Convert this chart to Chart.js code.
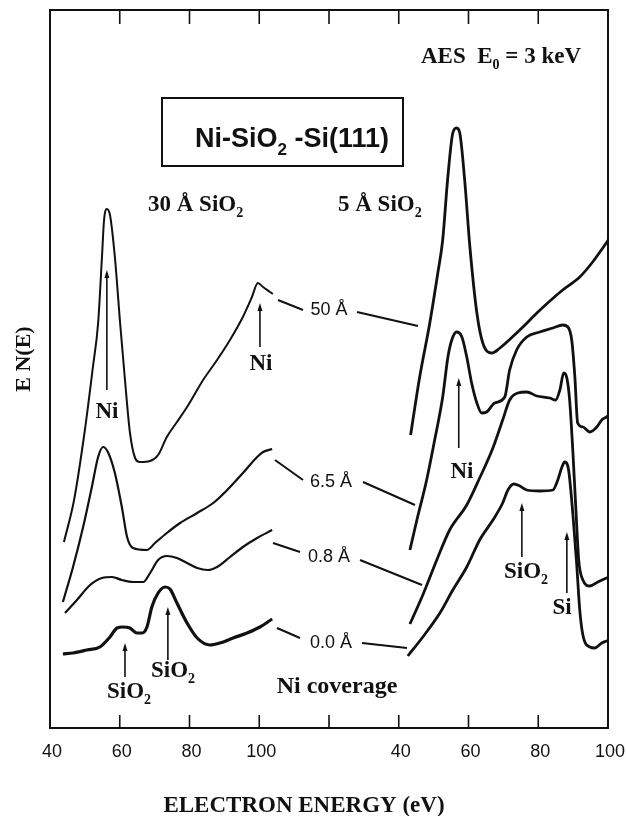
<!DOCTYPE html>
<html>
<head>
<meta charset="utf-8">
<script src="https://cdn.jsdelivr.net/npm/chart.js@4.4.0/dist/chart.umd.min.js"></script>
<style>
  html, body { margin: 0; padding: 0; background: #fff; }
</style>
</head>
<body>
<canvas id="chart" width="626" height="816"></canvas>
<script>
// Left panel: 30 A SiO2 - electron energy (eV) and E N(E) (arb. units)
const left50E = [44.0, 46.9, 50.0, 52.3, 53.8, 54.9, 55.5, 56.3, 57.2, 58.6, 60.1, 61.5, 62.9, 64.4, 65.8, 68.7, 71.0, 73.5, 76.4, 79.3, 83.9, 87.9, 91.6, 95.3, 97.9, 99.6, 101.1, 103.1, 103.9];
const left50I = [186, 228, 298, 361, 405, 471, 508, 519, 513, 471, 405, 348, 296, 270, 266, 267, 273, 291, 306, 321, 348, 368, 388, 411, 431, 445, 441, 436, 434];
const left65E = [43.7, 46.6, 49.5, 52.0, 53.8, 55.2, 56.6, 58.6, 60.6, 62.1, 63.8, 67.8, 70.1, 73.5, 77.3, 82.2, 86.8, 90.8, 95.3, 99.4, 101.1, 103.7];
const left65I = [126, 161, 201, 241, 271, 281, 276, 255, 221, 191, 180, 178, 185, 195, 205, 215, 225, 238, 255, 271, 276, 279];
const left08E = [44.3, 47.7, 51.5, 54.9, 57.8, 60.6, 63.8, 66.7, 68.7, 71.0, 73.5, 76.4, 79.3, 82.2, 85.3, 87.9, 91.6, 95.3, 99.4, 103.7];
const left08I = [115, 128, 143, 150, 151, 148, 146, 146, 155, 168, 172, 170, 165, 160, 158, 161, 171, 181, 190, 198];
const left00E = [43.7, 46.6, 50.6, 54.3, 57.2, 59.2, 60.9, 62.9, 64.9, 66.4, 67.8, 69.2, 71.0, 73.0, 74.4, 76.4, 79.3, 82.2, 85.9, 88.7, 92.5, 96.5, 100.2, 103.7];
const left00I = [74, 75, 78, 81, 91, 100, 101, 100, 95, 95, 101, 121, 135, 141, 139, 125, 105, 90, 83, 85, 90, 95, 101, 109];

// Right panel: 5 A SiO2
const right50E = [43.4, 46.0, 48.9, 51.2, 52.6, 54.0, 55.5, 56.6, 57.5, 58.9, 60.4, 62.4, 64.1, 66.7, 69.0, 73.8, 75.6, 79.6, 87.0, 91.9, 95.6, 99.1, 100.5];
const right50I = [293, 351, 405, 455, 488, 548, 595, 600, 595, 548, 481, 415, 385, 375, 380, 395, 401, 415, 438, 451, 466, 483, 490];
const right65E = [43.2, 45.2, 48.0, 50.3, 52.6, 54.1, 55.2, 56.6, 58.1, 59.5, 60.9, 62.4, 63.8, 65.2, 67.5, 70.4, 71.8, 73.8, 76.7, 80.4, 84.2, 87.0, 88.5, 89.6, 90.5, 91.3, 92.8, 94.8, 96.8, 98.2, 99.6, 100.3];
const right65I = [178, 208, 248, 288, 331, 371, 388, 396, 391, 371, 345, 325, 315, 316, 325, 331, 358, 378, 391, 396, 400, 403, 401, 388, 351, 305, 301, 296, 301, 308, 311, 313];
const right08E = [43.2, 46.9, 50.9, 54.6, 59.5, 63.2, 67.0, 69.8, 71.8, 74.1, 76.7, 79.6, 83.3, 85.0, 86.2, 87.3, 88.2, 89.0, 89.9, 90.8, 91.6, 92.8, 94.8, 97.1, 99.6, 100.3];
const right08I = [104, 133, 168, 198, 223, 250, 280, 308, 328, 335, 336, 332, 330, 328, 338, 355, 350, 328, 278, 218, 168, 148, 142, 146, 150, 151];
const right00E = [42.6, 46.9, 51.8, 55.5, 59.5, 63.2, 67.0, 69.8, 71.3, 73.0, 74.7, 76.7, 80.4, 84.2, 85.6, 86.7, 87.6, 88.7, 89.9, 91.0, 91.9, 92.8, 94.8, 96.2, 98.2, 99.6, 100.3];
const right00I = [72, 91, 115, 138, 161, 188, 208, 225, 238, 244, 242, 238, 237, 238, 248, 260, 266, 258, 215, 165, 118, 93, 81, 80, 85, 87, 88];

// the two panels share one axis: left 40-120 eV, right 40-100 eV placed after it
const tickPos = [0, 20, 40, 60, 80, 100, 120, 140, 160];
const tickLabels = ['40', '60', '80', '100', '', '40', '60', '80', '100'];
const LEFT_OFFSET = -40, RIGHT_OFFSET = 60;

// arrows: panel offset, energy, head / tail intensity
const arrows = [
  { off: LEFT_OFFSET, e: 56.3, head: 458, tail: 338 },
  { off: LEFT_OFFSET, e: 100.2, head: 425, tail: 381 },
  { off: LEFT_OFFSET, e: 61.5, head: 85, tail: 51 },
  { off: LEFT_OFFSET, e: 73.8, head: 121, tail: 68 },
  { off: RIGHT_OFFSET, e: 57.2, head: 350, tail: 280 },
  { off: RIGHT_OFFSET, e: 75.3, head: 225, tail: 171 },
  { off: RIGHT_OFFSET, e: 88.2, head: 196, tail: 135 }
];

function toPoints(es, is, off) {
  return es.map((e, i) => ({ x: e + off, y: is[i] }));
}

function curve(es, is, off, width) {
  return {
    data: toPoints(es, is, off),
    showLine: true,
    borderColor: '#111',
    borderWidth: width,
    pointRadius: 0,
    cubicInterpolationMode: 'monotone',
    fill: false
  };
}

const SERIF = "'Liberation Serif', 'DejaVu Serif', serif";
const SANS = "'Liberation Sans', Arial, sans-serif";

// draw text made of [string, isSubscript] parts
function richText(ctx, parts, x, y, size, font, align) {
  let total = 0;
  const widths = parts.map(p => {
    ctx.font = font.replace('SIZE', p[1] ? Math.round(size * 0.62) : size);
    const w = ctx.measureText(p[0]).width;
    total += w;
    return w;
  });
  let cx = align === 'center' ? x - total / 2 : x;
  ctx.textAlign = 'left';
  ctx.textBaseline = 'alphabetic';
  parts.forEach((p, i) => {
    ctx.font = font.replace('SIZE', p[1] ? Math.round(size * 0.62) : size);
    ctx.fillText(p[0], cx, y + (p[1] ? size * 0.28 : 0));
    cx += widths[i];
  });
}

const decor = {
  id: 'decor',
  afterDraw(chart) {
    const ctx = chart.ctx, a = chart.chartArea;
    const xs = chart.scales.x, ys = chart.scales.y;
    ctx.save();
    ctx.strokeStyle = '#111';
    ctx.fillStyle = '#111';

    // frame
    ctx.lineWidth = 2;
    ctx.strokeRect(a.left, a.top, a.right - a.left, a.bottom - a.top);

    // inward ticks + labels
    ctx.lineWidth = 1.6;
    ctx.font = '18px ' + SANS;
    ctx.textAlign = 'center';
    ctx.textBaseline = 'middle';
    tickPos.forEach((v, i) => {
      const px = xs.getPixelForValue(v);
      if (v > xs.min && v < xs.max) {
        ctx.beginPath();
        ctx.moveTo(px, a.top); ctx.lineTo(px, a.top + 14);
        ctx.moveTo(px, a.bottom); ctx.lineTo(px, a.bottom - 13);
        ctx.stroke();
      }
      if (tickLabels[i]) ctx.fillText(tickLabels[i], px + 2, 752);
    });

    // axis titles
    ctx.font = 'bold 23px ' + SERIF;
    ctx.fillText('ELECTRON ENERGY (eV)', 304, 806);
    ctx.save();
    ctx.translate(24, 359);
    ctx.rotate(-Math.PI / 2);
    ctx.font = 'bold 22px ' + SERIF;
    ctx.fillText('E N(E)', 0, 0);
    ctx.restore();

    // header texts
    const bs = 'bold SIZEpx ' + SERIF;
    richText(ctx, [['AES  E', 0], ['0', 1], [' = 3 keV', 0]], 421, 63, 23, bs, 'left');
    ctx.lineWidth = 2;
    ctx.strokeRect(162, 98, 241, 68);
    richText(ctx, [['Ni-SiO', 0], ['2', 1], [' -Si(111)', 0]], 292, 147, 27, 'bold SIZEpx ' + SANS, 'center');
    richText(ctx, [['30 \u00c5 SiO', 0], ['2', 1]], 148, 211, 23, bs, 'left');
    richText(ctx, [['5 \u00c5 SiO', 0], ['2', 1]], 338, 211, 23, bs, 'left');

    // peak labels
    richText(ctx, [['Ni', 0]], 107, 418, 23, bs, 'center');
    richText(ctx, [['Ni', 0]], 261, 370, 23, bs, 'center');
    richText(ctx, [['SiO', 0], ['2', 1]], 129, 698, 23, bs, 'center');
    richText(ctx, [['SiO', 0], ['2', 1]], 173, 677, 23, bs, 'center');
    richText(ctx, [['Ni', 0]], 462, 478, 23, bs, 'center');
    richText(ctx, [['SiO', 0], ['2', 1]], 526, 578, 23, bs, 'center');
    richText(ctx, [['Si', 0]], 562, 614, 23, bs, 'center');
    richText(ctx, [['Ni coverage', 0]], 337, 693, 24, bs, 'center');

    // arrows
    ctx.lineWidth = 1.6;
    arrows.forEach(ar => {
      const px = xs.getPixelForValue(ar.e + ar.off);
      const hy = ys.getPixelForValue(ar.head), ty = ys.getPixelForValue(ar.tail);
      ctx.beginPath();
      ctx.moveTo(px, ty); ctx.lineTo(px, hy + 6);
      ctx.stroke();
      ctx.beginPath();
      ctx.moveTo(px, hy); ctx.lineTo(px - 2.5, hy + 8); ctx.lineTo(px + 2.5, hy + 8);
      ctx.closePath();
      ctx.fill();
    });

    // coverage labels and connector lines
    ctx.lineWidth = 2;
    const links = [
      ['50 \u00c5', 329, 310, [278, 300, 303, 310], [357, 312, 418, 326]],
      ['6.5 \u00c5', 331, 482, [275, 460, 303, 480], [363, 482, 415, 505]],
      ['0.8 \u00c5', 329, 557, [273, 543, 300, 552], [360, 560, 422, 585]],
      ['0.0 \u00c5', 331, 643, [277, 628, 300, 638], [362, 643, 407, 648]]
    ];
    ctx.font = '18px ' + SANS;
    ctx.textAlign = 'center';
    ctx.textBaseline = 'middle';
    links.forEach(l => {
      ctx.fillText(l[0], l[1], l[2]);
      [l[3], l[4]].forEach(s => {
        ctx.beginPath();
        ctx.moveTo(s[0], s[1]); ctx.lineTo(s[2], s[3]);
        ctx.stroke();
      });
    });
    ctx.restore();
  }
};

new Chart(document.getElementById('chart'), {
  type: 'scatter',
  data: {
    datasets: [
      curve(left50E, left50I, LEFT_OFFSET, 2),
      curve(left65E, left65I, LEFT_OFFSET, 2.2),
      curve(left08E, left08I, LEFT_OFFSET, 2.2),
      curve(left00E, left00I, LEFT_OFFSET, 3.2),
      curve(right50E, right50I, RIGHT_OFFSET, 2.8),
      curve(right65E, right65I, RIGHT_OFFSET, 2.8),
      curve(right08E, right08I, RIGHT_OFFSET, 2.8),
      curve(right00E, right00I, RIGHT_OFFSET, 2.8)
    ]
  },
  options: {
    responsive: false,
    devicePixelRatio: 1,
    animation: false,
    layout: { padding: { left: 50, right: 18, top: 10, bottom: 88 } },
    plugins: { legend: { display: false }, tooltip: { enabled: false } },
    scales: {
      x: { type: 'linear', min: 0, max: 160, display: false },
      y: { type: 'linear', min: 0, max: 718, display: false }
    }
  },
  plugins: [decor]
});
</script>
</body>
</html>
